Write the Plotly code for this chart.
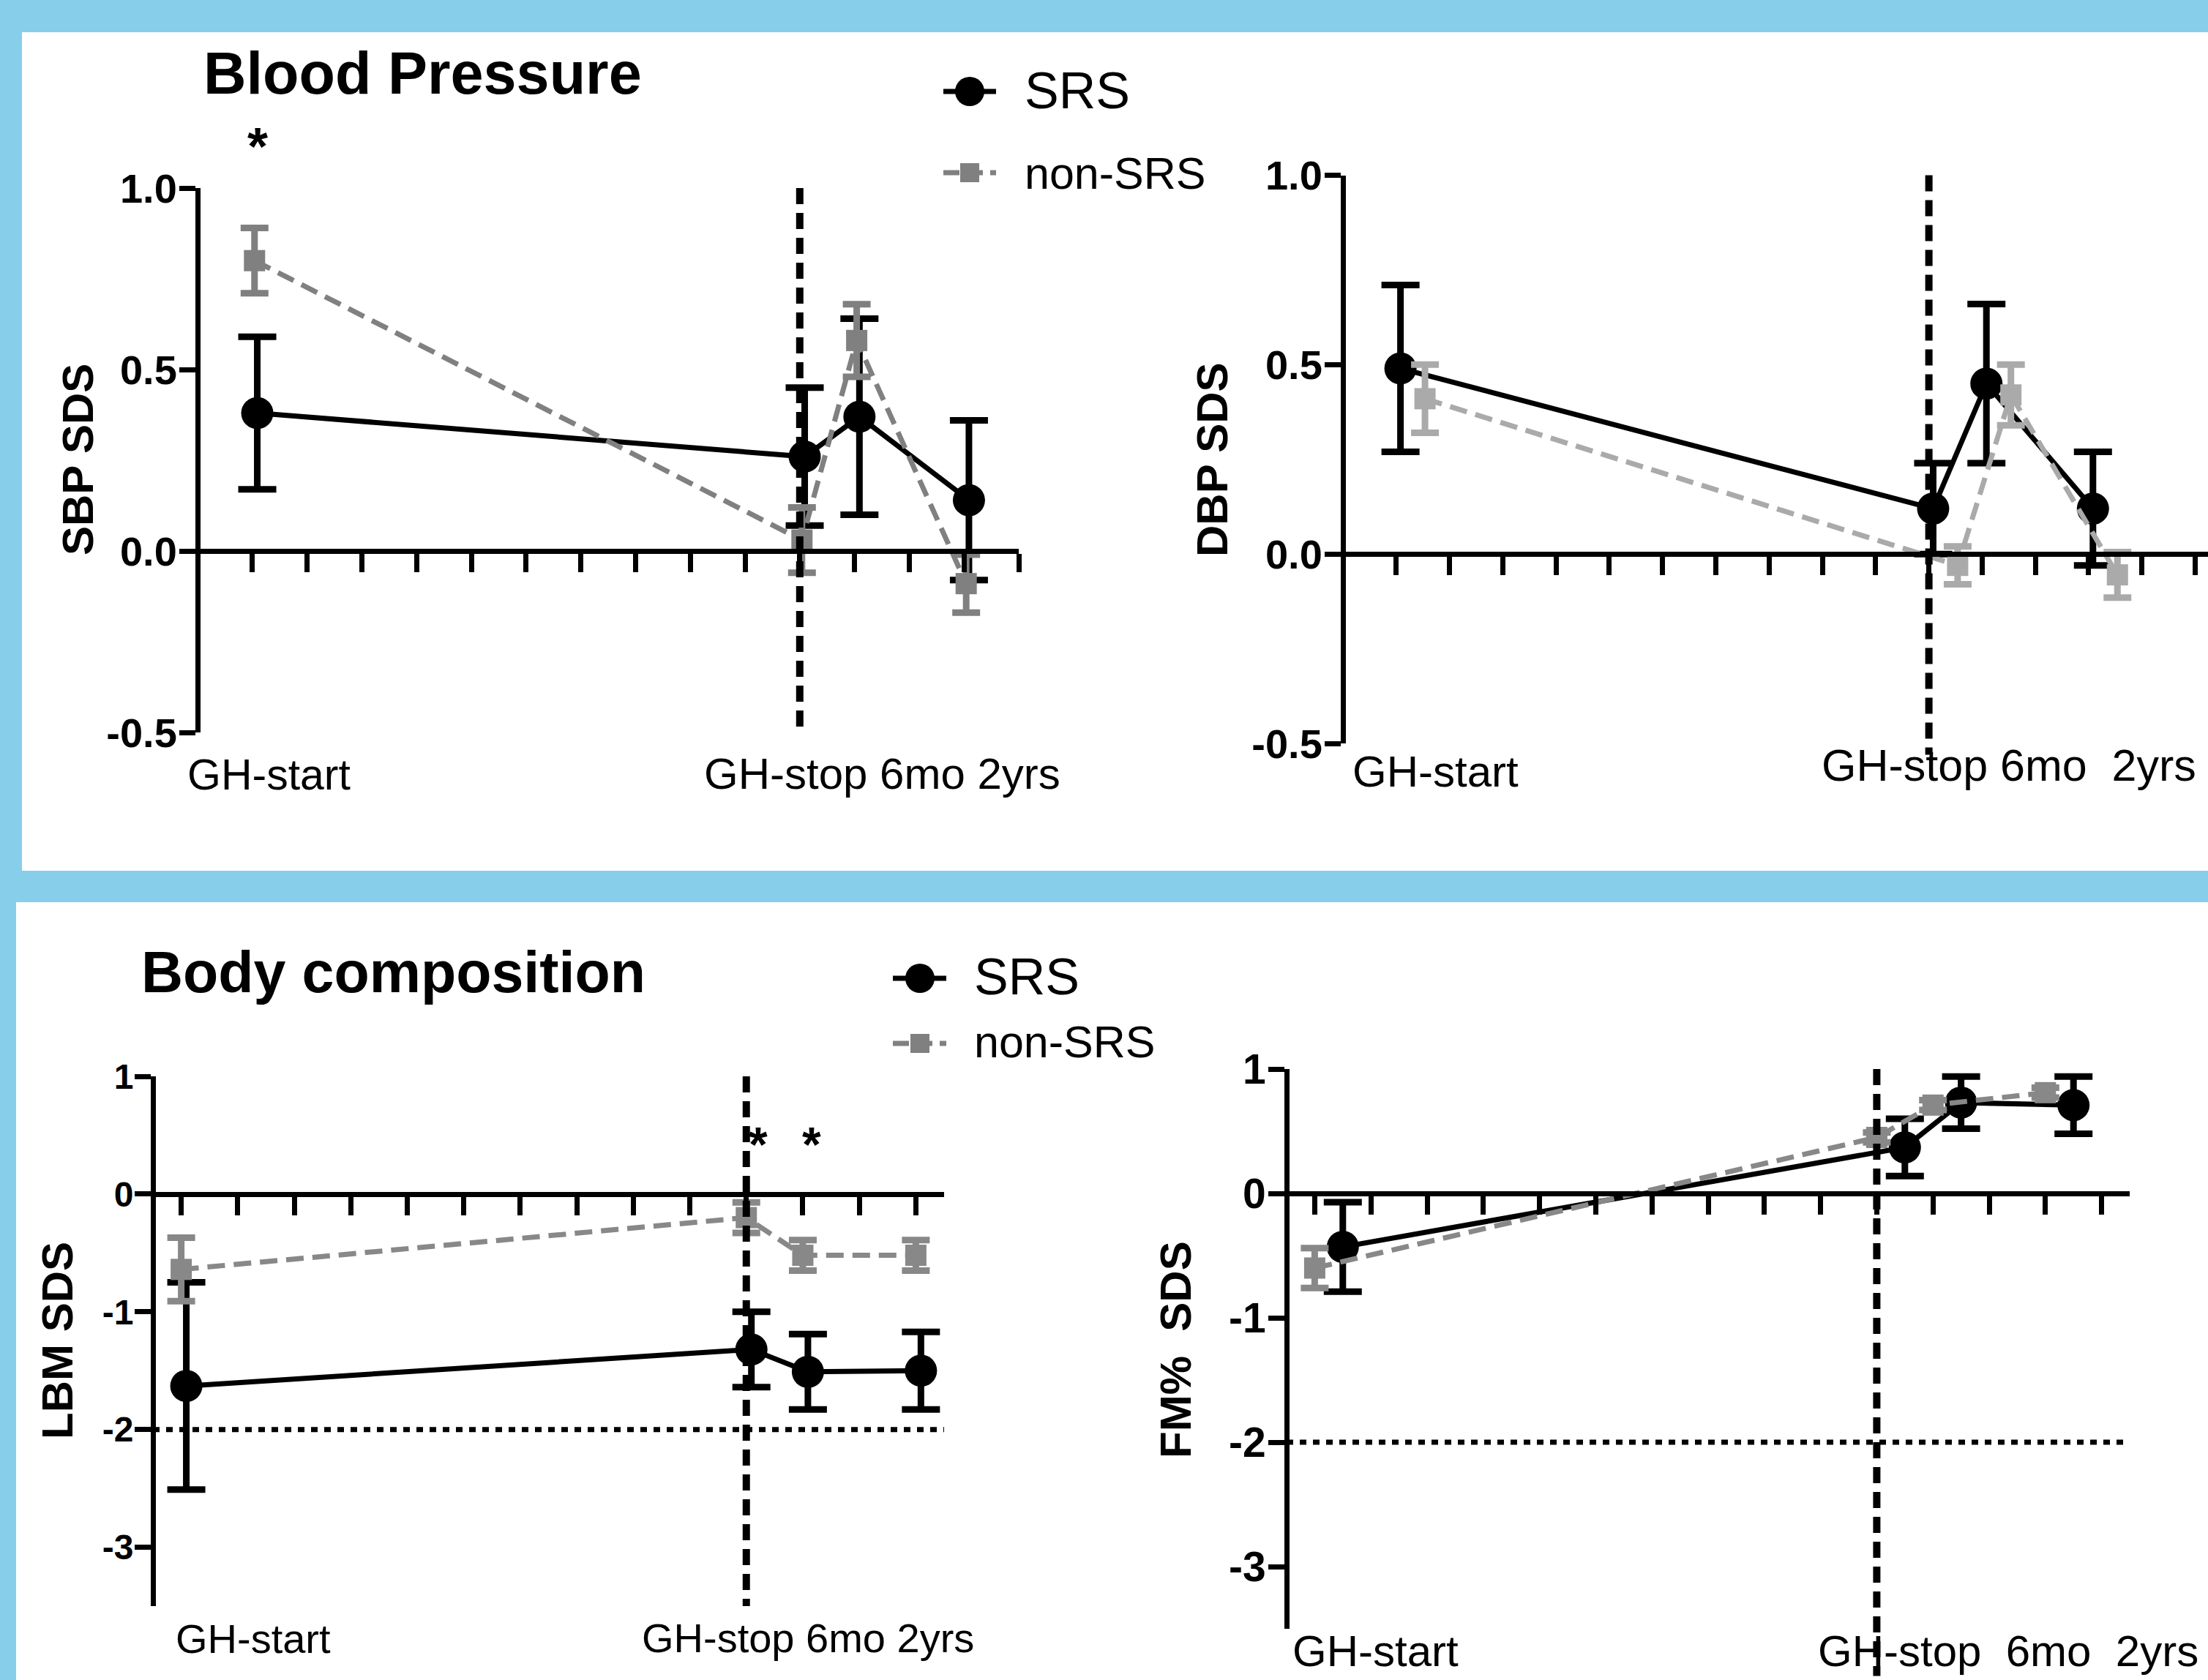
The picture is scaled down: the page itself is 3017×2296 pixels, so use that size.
import plotly.graph_objects as go

W, H = 3017, 2296
FONT = "Liberation Sans, Arial, sans-serif"
BLUE = "#87CEEB"


def fx(px):
    return px / W


def fy(py):
    return 1 - py / H


# ---------------- data ----------------
timepoint_labels = ["GH-start", "GH-stop", "6mo", "2yrs"]
timepoint_x = [1, 11, 12, 14]
gh_stop_x = 11

sbp_srs = [0.38, 0.26, 0.37, 0.14]
sbp_srs_err = [0.21, 0.19, 0.27, 0.22]
sbp_non = [0.80, 0.03, 0.58, -0.09]
sbp_non_err = [0.09, 0.09, 0.10, 0.08]

dbp_srs = [0.49, 0.12, 0.45, 0.12]
dbp_srs_err = [0.22, 0.12, 0.21, 0.15]
dbp_non = [0.41, -0.03, 0.42, -0.055]
dbp_non_err = [0.09, 0.05, 0.08, 0.06]

lbm_srs = [-1.63, -1.32, -1.51, -1.50]
lbm_srs_err = [0.88, 0.32, 0.32, 0.33]
lbm_non = [-0.64, -0.20, -0.52, -0.52]
lbm_non_err = [0.27, 0.13, 0.13, 0.13]

fm_srs = [-0.43, 0.37, 0.73, 0.71]
fm_srs_err = [0.36, 0.23, 0.21, 0.23]
fm_non = [-0.60, 0.45, 0.71, 0.81]
fm_non_err = [0.16, 0.04, 0.04, 0.04]

sbp_ticks = [-0.5, 0.0, 0.5, 1.0]
sbp_ticktext = ["-0.5", "0.0", "0.5", "1.0"]
bc_ticks = [-3, -2, -1, 0, 1]
bc_ticktext = ["-3", "-2", "-1", "0", "1"]

# ---------------- subplot layout (pixels) ----------------
subplots = [
    dict(id="", xdom=(270, 1392), xr=[0, 15], xt=list(range(1, 16)),
         ydom=(257, 1001), yr=[-0.5, 1.0], yt=sbp_ticks, ytt=sbp_ticktext, tfs=56,
         srs=sbp_srs, srs_e=sbp_srs_err, non=sbp_non, non_e=sbp_non_err,
         off=(0.09, 0.04), gray="#808080", vline=(1.0, -0.5), hline=None,
         ylab="SBP SDS", ylab_pos=(107, 628),
         lab1=("GH-start", 254, 1059, 59), lab2=("GH-stop 6mo 2yrs", 960, 1058, 60)),
    dict(id="2", xdom=(1835, 3017), xr=[0, 16.24], xt=list(range(1, 17)),
         ydom=(239.5, 1016), yr=[-0.5, 1.0], yt=sbp_ticks, ytt=sbp_ticktext, tfs=56,
         srs=dbp_srs, srs_e=dbp_srs_err, non=dbp_non, non_e=dbp_non_err,
         off=(0.08, 0.54), gray="#aaaaaa", vline=(1.0, -0.53), hline=None,
         ylab="DBP SDS", ylab_pos=(1657, 628),
         lab1=("GH-start", 1846, 1054, 60), lab2=("GH-stop 6mo  2yrs", 2487, 1046, 61)),
    dict(id="3", xdom=(209, 1290), xr=[0.5, 14.5], xt=list(range(1, 15)),
         ydom=(1471, 2195), yr=[-3.5, 1.0], yt=bc_ticks, ytt=bc_ticktext, tfs=48,
         srs=lbm_srs, srs_e=lbm_srs_err, non=lbm_non, non_e=lbm_non_err,
         off=(0.09, 0.0), gray="#888888", vline=(1.0, -3.5), hline=-2,
         ylab="LBM SDS", ylab_pos=(78, 1832),
         lab1=("GH-start", 238, 2239, 56), lab2=("GH-stop 6mo 2yrs", 875, 2238, 56)),
    dict(id="4", xdom=(1758, 2910), xr=[0.5, 15.5], xt=list(range(1, 16)),
         ydom=(1461, 2226), yr=[-3.5, 1.0], yt=bc_ticks, ytt=bc_ticktext, tfs=57,
         srs=fm_srs, srs_e=fm_srs_err, non=fm_non, non_e=fm_non_err,
         off=(0.5, 0.0), gray="#888888", vline=(1.0, -3.88), hline=-2,
         ylab="FM%  SDS", ylab_pos=(1606, 1845),
         lab1=("GH-start", 1764, 2256, 60), lab2=("GH-stop  6mo  2yrs", 2482, 2256, 60)),
]

fig = go.Figure()
shapes = []
annotations = []

# white panels
shapes.append(dict(type="rect", xref="paper", yref="paper", x0=fx(30), x1=1.0,
                   y0=fy(1190), y1=fy(44), fillcolor="white", line=dict(width=0), layer="below"))
shapes.append(dict(type="rect", xref="paper", yref="paper", x0=fx(22), x1=1.0,
                   y0=fy(2296), y1=fy(1233), fillcolor="white", line=dict(width=0), layer="below"))

layout_axes = {}
for sp in subplots:
    xid = "x" + sp["id"]
    yid = "y" + sp["id"]
    ytop, ybot = sp["ydom"]
    ymin, ymax = sp["yr"]
    zero_py = ytop + (ymax - 0) / (ymax - ymin) * (ybot - ytop)
    ydom_paper = [fy(ybot), fy(ytop)]

    def y_to_paper(v, d=ydom_paper, lo=ymin, hi=ymax):
        return d[0] + (v - lo) / (hi - lo) * (d[1] - d[0])

    layout_axes["xaxis" + sp["id"]] = dict(
        domain=[fx(sp["xdom"][0]), fx(sp["xdom"][1])], range=sp["xr"],
        tickvals=sp["xt"], ticks="outside", ticklen=25, tickwidth=7, tickcolor="black",
        showline=True, linewidth=7, linecolor="black", showticklabels=False,
        showgrid=False, zeroline=False, anchor="free", position=fy(zero_py),
        fixedrange=True)
    layout_axes["yaxis" + sp["id"]] = dict(
        domain=ydom_paper, range=sp["yr"], tickvals=sp["yt"], ticktext=sp["ytt"],
        ticks="outside", ticklen=22, tickwidth=7, tickcolor="black",
        showline=True, linewidth=7, linecolor="black", showgrid=False, zeroline=False,
        anchor="free", position=fx(sp["xdom"][0]), fixedrange=True,
        ticklabelstandoff=-8,
        tickfont=dict(family=FONT, size=sp["tfs"], color="black", weight="bold"))

    xs_srs = [t + sp["off"][0] for t in timepoint_x]
    xs_non = [t + sp["off"][1] for t in timepoint_x]

    fig.add_trace(go.Scatter(
        x=xs_srs, y=sp["srs"], xaxis=xid, yaxis=yid, name="SRS", showlegend=False,
        mode="lines+markers", line=dict(color="black", width=7),
        marker=dict(symbol="circle", size=44, color="black"),
        error_y=dict(type="data", array=sp["srs_e"], symmetric=True, color="black",
                     thickness=9, width=26),
        text=timepoint_labels, hoverinfo="text+y"))
    fig.add_trace(go.Scatter(
        x=xs_non, y=sp["non"], xaxis=xid, yaxis=yid, name="non-SRS", showlegend=False,
        mode="lines+markers", line=dict(color=sp["gray"], width=7, dash="24px,12px"),
        marker=dict(symbol="square", size=29, color=sp["gray"]),
        error_y=dict(type="data", array=sp["non_e"], symmetric=True, color=sp["gray"],
                     thickness=9, width=19),
        text=timepoint_labels, hoverinfo="text+y"))

    # GH-stop vertical dashed line (may run a little past the axis bottom)
    shapes.append(dict(type="line", xref=xid, yref="paper", x0=gh_stop_x, x1=gh_stop_x,
                       y0=y_to_paper(sp["vline"][0]), y1=y_to_paper(sp["vline"][1]),
                       line=dict(color="black", width=10, dash="22px,12px")))
    if sp["hline"] is not None:
        shapes.append(dict(type="line", xref=xid, yref=yid, x0=sp["xr"][0], x1=sp["xr"][1],
                           y0=sp["hline"], y1=sp["hline"],
                           line=dict(color="black", width=7, dash="9px,9px")))

    # y-axis title
    annotations.append(dict(text=sp["ylab"].replace("  ", "&nbsp; "), xref="paper", yref="paper",
                            x=fx(sp["ylab_pos"][0]), y=fy(sp["ylab_pos"][1]),
                            xanchor="center", yanchor="middle", textangle=-90, showarrow=False,
                            font=dict(family=FONT, size=60, color="black", weight="bold")))
    # time labels under the axes
    for lab in (sp["lab1"], sp["lab2"]):
        annotations.append(dict(text=lab[0].replace("  ", "&nbsp; "), xref="paper", yref="paper",
                                x=fx(lab[1]), y=fy(lab[2]), xanchor="left", yanchor="middle",
                                showarrow=False,
                                font=dict(family=FONT, size=lab[3], color="black")))

# titles
annotations.append(dict(text="Blood Pressure", xref="paper", yref="paper", x=fx(276), y=fy(100),
                        xanchor="left", yanchor="middle", showarrow=False,
                        font=dict(family=FONT, size=81, color="black", weight="bold")))
annotations.append(dict(text="Body composition", xref="paper", yref="paper", x=fx(191), y=fy(1328),
                        xanchor="left", yanchor="middle", showarrow=False,
                        font=dict(family=FONT, size=79, color="black", weight="bold")))

# significance asterisks
annotations.append(dict(text="*", xref="x", yref="paper", x=1.09, y=fy(200), showarrow=False,
                        xanchor="center", yanchor="middle",
                        font=dict(family=FONT, size=72, color="black", weight="bold")))
for xa in (11.21, 12.15):
    annotations.append(dict(text="*", xref="x3", yref="y3", x=xa, y=0.42, showarrow=False,
                            xanchor="center", yanchor="middle",
                            font=dict(family=FONT, size=66, color="black", weight="bold")))

# custom legends
legends = [
    dict(srs_y=125, non_y=236, line_x=(1289, 1361), cx=1325, text_x=1398, srs_ty=124, non_ty=237),
    dict(srs_y=1337, non_y=1426, line_x=(1220, 1293), cx=1257, text_x=1329, srs_ty=1335, non_ty=1424),
]
for lg in legends:
    shapes.append(dict(type="line", xref="paper", yref="paper",
                       x0=fx(lg["line_x"][0]), x1=fx(lg["line_x"][1]),
                       y0=fy(lg["srs_y"]), y1=fy(lg["srs_y"]), line=dict(color="black", width=7)))
    shapes.append(dict(type="circle", xref="paper", yref="paper", xsizemode="pixel", ysizemode="pixel",
                       xanchor=fx(lg["cx"]), yanchor=fy(lg["srs_y"]), x0=-20, x1=20, y0=-20, y1=20,
                       fillcolor="black", line=dict(width=0)))
    shapes.append(dict(type="line", xref="paper", yref="paper",
                       x0=fx(lg["line_x"][0]), x1=fx(lg["line_x"][1]),
                       y0=fy(lg["non_y"]), y1=fy(lg["non_y"]),
                       line=dict(color="#808080", width=7, dash="22px,10px")))
    shapes.append(dict(type="rect", xref="paper", yref="paper", xsizemode="pixel", ysizemode="pixel",
                       xanchor=fx(lg["cx"]), yanchor=fy(lg["non_y"]), x0=-13, x1=13, y0=-13, y1=13,
                       fillcolor="#808080", line=dict(width=0)))
    annotations.append(dict(text="SRS", xref="paper", yref="paper", x=fx(lg["text_x"]), y=fy(lg["srs_ty"]),
                            xanchor="left", yanchor="middle", showarrow=False,
                            font=dict(family=FONT, size=70, color="black")))
    annotations.append(dict(text="non-SRS", xref="paper", yref="paper", x=fx(lg["text_x"]), y=fy(lg["non_ty"]),
                            xanchor="left", yanchor="middle", showarrow=False,
                            font=dict(family=FONT, size=61, color="black")))

fig.update_layout(
    width=W, height=H, margin=dict(l=0, r=0, t=0, b=0, pad=0, autoexpand=False),
    paper_bgcolor=BLUE, plot_bgcolor="rgba(0,0,0,0)",
    shapes=shapes, annotations=annotations, showlegend=False,
    font=dict(family=FONT, color="black"),
    **layout_axes)

fig.write_html("out.html", config={"displayModeBar": False},
               post_script="document.body.style.margin='0px';")
